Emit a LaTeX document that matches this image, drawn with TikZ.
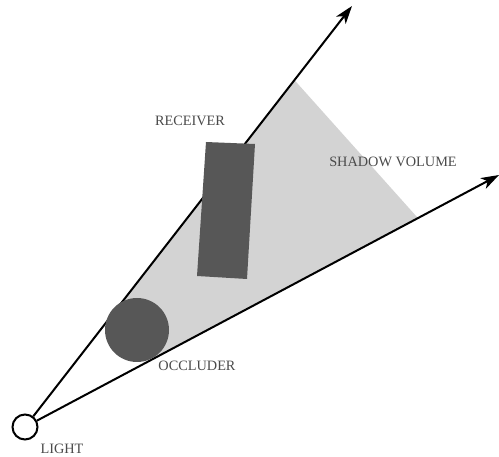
\documentclass[tikz,border=0pt]{standalone}
\usepackage{fontspec}
\setmainfont{Liberation Serif}
\usetikzlibrary{arrows.meta,calc}
\definecolor{shadowgray}{HTML}{D3D3D3}
\definecolor{objgray}{HTML}{575757}
\definecolor{labelgray}{HTML}{4A4A4A}
\begin{document}
\begin{tikzpicture}[x=1pt,y=-1pt,
  ray/.style={line width=2pt,-{Stealth[length=18pt,width=12pt,inset=5pt]}},
  solid obj/.style={fill=objgray,draw=none},
  lbl/.style={text=labelgray,font=\fontsize{14.3}{15}\selectfont,inner sep=0pt}]
\useasboundingbox (0,0) rectangle (499,457);
% key points
\coordinate (T1) at (352,6);
\coordinate (T2) at (499,175);
\coordinate (Lc) at (25,427);
\coordinate (Oc) at (137,330);
\coordinate (U1) at ($(Lc)!(Oc)!(T1)$);
\coordinate (U2) at ($(Lc)!(Oc)!(T2)$);
\coordinate (F1) at ($(Lc)!0.824!(T1)$);
\coordinate (F2) at ($(Lc)!0.829!(T2)$);
% shadow volume
\fill[shadowgray] (U1) -- (F1) -- (F2) -- (U2) -- (Oc) -- cycle;
% light
\node[circle,draw,line width=2pt,fill=white,minimum size=25pt,inner sep=0pt] (light) at (Lc) {};
% rays
\draw[ray] (light) -- (T1);
\draw[ray] (light) -- (T2);
% occluder
\node[circle,solid obj,minimum size=64pt,inner sep=0pt] (occ) at (Oc) {};
% receiver
\fill[objgray] (206,142) coordinate (R1) -- (255,144) coordinate (R2) -- (247,279) coordinate (R3) -- (197,276) coordinate (R4) -- cycle;
% labels
\node[lbl] (lreceiver) at (190,121) {RECEIVER};
\node[lbl] (lshadow) at (393,162) {SHADOW VOLUME};
\node[lbl] (loccluder) at (197,366) {OCCLUDER};
\node[lbl] (llight) at (62,449) {LIGHT};
\end{tikzpicture}
\end{document}
